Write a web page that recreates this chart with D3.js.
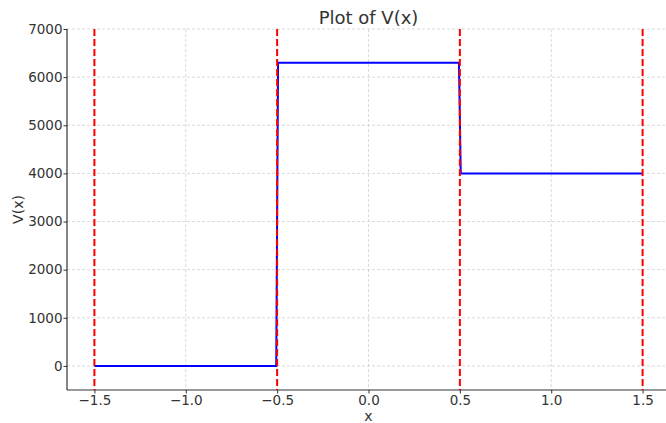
<!DOCTYPE html>
<html>
<head>
<meta charset="utf-8">
<script src="https://cdn.jsdelivr.net/npm/d3@7"></script>
<style>
  body { margin: 0; background: #fff; }
  svg { font-family: "DejaVu Sans", sans-serif; }
</style>
</head>
<body>
<svg id="chart" width="666" height="423"></svg>
<script>
// step potential, sampled points (x, V)
const xs = [-1.5, -0.505, -0.495, 0.495, 0.505, 1.5];
const vs = [0, 0, 6300, 6300, 4000, 4000];
const boundaries = [-1.5, -0.5, 0.5, 1.5];
const xTicks = [-1.5, -1.0, -0.5, 0.0, 0.5, 1.0, 1.5];
const yTicks = [0, 1000, 2000, 3000, 4000, 5000, 6000, 7000];

const svg = d3.select('#chart');
const plotLeft = 67, plotRight = 670, plotTop = 29, plotBottom = 390;

const x = d3.scaleLinear().domain([-1.65, 1.65]).range([plotLeft, plotRight]);
const y = d3.scaleLinear().domain([-500, 7000]).range([plotBottom, plotTop]);

const textColor = "#333";

// grid
svg.append('g').selectAll('line')
    .data(xTicks).join('line')
    .attr('x1', d => x(d)).attr('x2', d => x(d))
    .attr('y1', plotTop).attr('y2', plotBottom)
    .attr('stroke', '#d0d0d0').attr('stroke-width', 0.8)
    .attr('stroke-dasharray', '3,2');

svg.append('g').selectAll('line')
    .data(yTicks).join('line')
    .attr('x1', plotLeft).attr('x2', plotRight)
    .attr('y1', d => y(d)).attr('y2', d => y(d))
    .attr('stroke', '#d0d0d0').attr('stroke-width', 0.8)
    .attr('stroke-dasharray', '3,2');

// axes
const fmtX = d => d3.format('.1f')(d).replace('-', '\u2212');
const xAxis = svg.append('g')
    .attr('transform', `translate(0,${plotBottom})`)
    .call(d3.axisBottom(x).tickValues(xTicks).tickFormat(fmtX).tickSize(3.5).tickPadding(1.6));
const yAxis = svg.append('g')
    .attr('transform', `translate(${plotLeft},0)`)
    .call(d3.axisLeft(y).tickValues(yTicks).tickFormat(d3.format('d')).tickSize(3.5).tickPadding(1));

[xAxis, yAxis].forEach(a => {
    a.select('.domain').attr('stroke', textColor).attr('stroke-width', 1.2);
    a.selectAll('.tick line').attr('stroke', textColor);
    a.selectAll('.tick text').attr('fill', textColor)
        .style('font-size', '13.5px').style('font-family', '"DejaVu Sans", sans-serif');
});
// plain spines, no end caps
xAxis.select('.domain').attr('d', `M${plotLeft},0H${plotRight}`);
yAxis.select('.domain').attr('d', `M0,${plotTop}V${plotBottom}`);

// the step curve
const line = d3.line().x(d => x(d[0])).y(d => y(d[1]));
svg.append('path')
    .datum(xs.map((d, i) => [d, vs[i]]))
    .attr('d', line)
    .attr('fill', 'none')
    .attr('stroke', '#0000ff')
    .attr('stroke-width', 2);

// region boundaries
svg.append('g').selectAll('line')
    .data(boundaries).join('line')
    .attr('x1', d => x(d)).attr('x2', d => x(d))
    .attr('y1', plotTop).attr('y2', plotBottom)
    .attr('stroke', '#ff0000').attr('stroke-width', 2)
    .attr('stroke-dasharray', '7,3');

// labels
svg.append('text')
    .attr('x', (plotLeft + plotRight) / 2).attr('y', 24)
    .attr('text-anchor', 'middle')
    .attr('fill', textColor)
    .style('font-size', '18px')
    .text('Plot of V(x)');

svg.append('text')
    .attr('x', (plotLeft + plotRight) / 2).attr('y', 420.5)
    .attr('text-anchor', 'middle')
    .attr('fill', textColor)
    .style('font-size', '14px')
    .text('x');

svg.append('text')
    .attr('transform', `translate(23,${(plotTop + plotBottom) / 2}) rotate(-90)`)
    .attr('text-anchor', 'middle')
    .attr('fill', textColor)
    .style('font-size', '14px')
    .text('V(x)');
</script>
</body>
</html>
